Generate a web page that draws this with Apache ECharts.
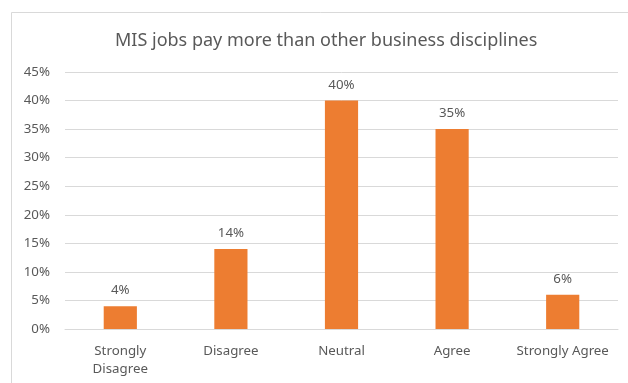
<!DOCTYPE html>
<html>
<head>
<meta charset="utf-8">
<script src="https://cdn.jsdelivr.net/npm/echarts@6/dist/echarts.min.js"></script>
<style>
  html, body { margin: 0; padding: 0; background: #ffffff; }
  #chart { width: 628px; height: 383px; }
</style>
</head>
<body>
<div id="chart"></div>
<script>
// Survey responses: "MIS jobs pay more than other business disciplines"
const categories = ['Strongly\nDisagree', 'Disagree', 'Neutral', 'Agree', 'Strongly Agree'];
const shares = [4, 14, 40, 35, 6];          // percent of respondents
const yTicks = { min: 0, max: 45, step: 5 }; // percent axis

const FONT = 'Noto Sans';
const TEXT = '#595959';
const GRID = '#d9d9d9';

const chart = echarts.init(document.getElementById('chart'), null, { renderer: 'canvas' });

chart.setOption({
  backgroundColor: '#ffffff',
  animation: false,
  textStyle: { fontFamily: FONT },
  graphic: [{
    type: 'rect',
    shape: { x: 11.5, y: 12.5, width: 700, height: 500 },
    style: { fill: 'none', stroke: GRID, lineWidth: 1 },
    silent: true, z: -1
  }],
  title: {
    text: 'MIS jobs pay more than other business disciplines',
    left: 110,
    top: 27,
    textStyle: { fontFamily: FONT, fontSize: 18, fontWeight: 'normal', color: TEXT }
  },
  grid: { left: 65, right: 10, top: 72, bottom: 54, containLabel: false },
  xAxis: {
    type: 'category',
    data: categories,
    axisLine: { lineStyle: { color: GRID } },
    axisTick: { show: false },
    axisLabel: { color: TEXT, fontFamily: FONT, fontSize: 13.3, margin: 13, lineHeight: 18, interval: 0 }
  },
  yAxis: {
    type: 'value',
    min: yTicks.min,
    max: yTicks.max,
    interval: yTicks.step,
    axisLine: { show: false },
    axisTick: { show: false },
    splitLine: { lineStyle: { color: GRID } },
    axisLabel: { color: TEXT, fontFamily: FONT, fontSize: 13.3, margin: 15, formatter: v => v + '%' }
  },
  series: [{
    type: 'bar',
    data: shares,
    barWidth: '30%',
    itemStyle: { color: '#ED7D31' },
    label: {
      show: true,
      position: 'top',
      distance: 9,
      color: TEXT,
      fontFamily: FONT,
      fontSize: 13.3,
      formatter: p => p.value + '%'
    }
  }]
});
</script>
</body>
</html>
